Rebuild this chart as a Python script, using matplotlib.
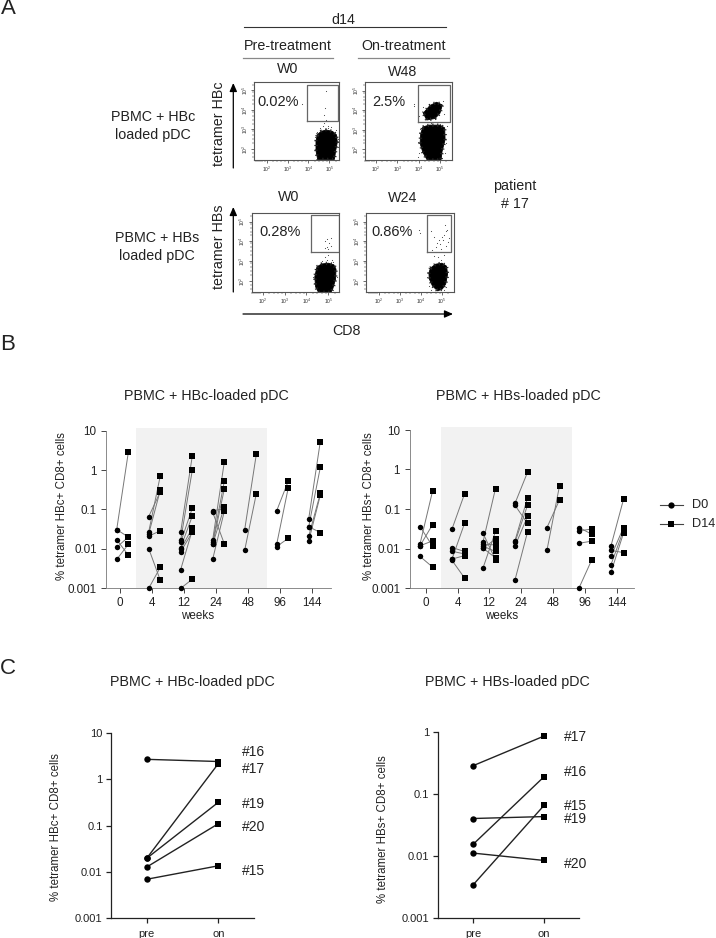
import matplotlib
matplotlib.use("Agg")
import matplotlib.pyplot as plt
from matplotlib.ticker import FixedLocator, FixedFormatter, NullLocator

W, H = 716, 938
plt.rcParams['font.family'] = ['Liberation Sans', 'DejaVu Sans']
plt.rcParams['mathtext.default'] = 'regular'

# Panel B, (D0, D14) pairs per week
weeks = ["0", "4", "12", "24", "48", "96", "144"]

hbc_d0 = [
    [0.031, 0.031, 0.017, 0.011, 0.0054],
    [0.066, 0.027, 0.024, 0.021, 0.0102, 0.001],
    [0.027, 0.017, 0.0148, 0.0108, 0.0098, 0.0085, 0.003, 0.001],
    [0.093, 0.085, 0.017, 0.0148, 0.0132, 0.0132, 0.0055],
    [0.031, 0.0093],
    [0.093, 0.0132, 0.0115],
    [0.058, 0.0367, 0.0367, 0.0209, 0.0158],
]
hbc_d14 = [
    [2.8, 0.02, 0.007, 0.02, 0.013],
    [0.28, 0.72, 0.31, 0.029, 0.0016, 0.0034],
    [2.3, 1.0, 0.108, 0.068, 0.034, 0.0265, 0.03, 0.0017],
    [0.104, 0.0135, 1.6, 0.52, 0.33, 0.115, 0.09],
    [2.5, 0.25],
    [0.53, 0.36, 0.0186],
    [5.3, 0.026, 1.17, 0.255, 0.23],
]
hbs_d0 = [
    [0.036, 0.013, 0.0117, 0.0117, 0.0063],
    [0.031, 0.0106, 0.0085, 0.0054, 0.0054, 0.005],
    [0.0244, 0.0147, 0.0129, 0.0115, 0.0102, 0.0102, 0.0032],
    [0.139, 0.124, 0.0159, 0.0144, 0.0115, 0.0016],
    [0.034, 0.0092],
    [0.034, 0.028, 0.0136, 0.001],
    [0.0117, 0.0089, 0.0063, 0.0039, 0.0025],
]
hbs_d14 = [
    [0.0115, 0.28, 0.0156, 0.04, 0.0034],
    [0.24, 0.0084, 0.0073, 0.043, 0.0066, 0.0018],
    [0.0052, 0.33, 0.0123, 0.0084, 0.0172, 0.0058, 0.027],
    [0.85, 0.043, 0.19, 0.124, 0.065, 0.026],
    [0.17, 0.385],
    [0.0232, 0.031, 0.0153, 0.005],
    [0.175, 0.0079, 0.034, 0.029, 0.0245],
]

# Panel C
patients_hbc = ["#16", "#17", "#19", "#20", "#15"]
pre_hbc = [2.73, 0.0196, 0.0196, 0.0127, 0.0069]
on_hbc = [2.45, 2.2, 0.32, 0.11, 0.0135]
patients_hbs = ["#17", "#16", "#15", "#19", "#20"]
pre_hbs = [0.283, 0.0153, 0.0034, 0.04, 0.0111]
on_hbs = [0.85, 0.188, 0.065, 0.043, 0.00845]

# Panel A, flow plots in log10 units: percent, gate, cell clouds (outlines), lone events
pct_labels = ["0.02%", "2.5%", "0.28%", "0.86%"]
gates = [(3.91, 5.41, 3.41, 5.29), (3.99, 5.47, 3.38, 5.29),
         (4.23, 5.47, 3.49, 5.34), (4.27, 5.44, 3.49, 5.34)]
clouds = [
    [[(4.42, 2.72), (4.6, 2.9), (4.85, 2.97), (5.15, 2.9), (5.34, 2.72), (5.38, 2.35),
      (5.3, 1.9), (5.24, 1.46), (4.44, 1.46), (4.36, 1.9), (4.36, 2.4)]],
    [[(4.22, 3.85), (4.53, 4.24), (4.84, 4.41), (5.11, 4.27), (5.0, 3.85), (4.77, 3.58), (4.38, 3.5)],
     [(4.2, 3.15), (4.5, 3.24), (5.0, 3.24), (5.22, 3.1), (5.24, 2.5), (5.1, 1.9),
      (5.05, 1.46), (4.4, 1.46), (4.2, 1.85), (4.07, 2.3), (4.1, 2.8)]],
    [[(4.48, 2.72), (4.7, 2.86), (5.0, 2.9), (5.25, 2.82), (5.35, 2.6), (5.33, 2.1),
      (5.2, 1.6), (5.12, 1.43), (4.55, 1.43), (4.42, 1.7), (4.38, 2.2)]],
    [[(4.45, 2.65), (4.7, 2.85), (5.0, 2.9), (5.22, 2.75), (5.27, 2.35), (5.18, 1.85),
      (5.02, 1.6), (4.8, 1.5), (4.55, 1.75), (4.4, 2.1), (4.38, 2.4)]],
]
events = [
    [(4.85, 4.95), (4.78, 4.1), (4.72, 3.75), (4.85, 3.5), (3.67, 4.33), (4.7, 3.2), (4.95, 3.2),
     (4.55, 3.05), (5.1, 3.1), (5.3, 2.95), (4.3, 2.6), (5.42, 2.5), (4.3, 2.0), (5.4, 2.1),
     (4.75, 3.35), (4.95, 3.05), (4.4, 2.85)],
    [(3.77, 4.33), (3.77, 4.2), (4.2, 4.15), (5.12, 4.45), (4.0, 3.7), (5.2, 3.8), (5.35, 3.2),
     (4.05, 3.05), (3.98, 2.4), (5.3, 2.8), (5.28, 2.3), (4.0, 1.8), (4.6, 3.35), (5.0, 3.3),
     (3.95, 1.6), (5.22, 1.8)],
    [(4.85, 4.0), (4.95, 4.1), (5.05, 3.9), (5.1, 3.75), (4.95, 3.7), (5.0, 3.6), (4.85, 3.65),
     (5.12, 4.15), (5.0, 3.3), (4.85, 3.2), (4.95, 3.05), (4.7, 3.0), (5.15, 3.05), (4.3, 2.2),
     (5.38, 2.2), (4.35, 1.9), (4.9, 3.45), (5.2, 2.95)],
    [(4.55, 3.55), (4.7, 3.7), (4.75, 3.9), (4.85, 4.05), (4.9, 3.85), (5.0, 4.2), (5.1, 4.3),
     (5.18, 4.55), (5.25, 4.6), (5.15, 4.85), (5.05, 4.05), (4.6, 4.2), (4.5, 4.55), (4.95, 3.6),
     (5.2, 3.75), (4.8, 3.2), (5.1, 3.3), (4.6, 3.25), (4.95, 3.05), (4.3, 2.2), (5.3, 2.2),
     (5.1, 1.55), (4.5, 1.55), (4.4, 1.75), (4.9, 1.45), (5.2, 1.7), (4.7, 1.6), (3.9, 4.6),
     (3.95, 4.45), (4.7, 3.45), (5.35, 4.15), (5.3, 3.95)],
]


def px_axes(fig, left, top, right, bottom):
    return fig.add_axes([left / W, 1 - bottom / H, (right - left) / W, (bottom - top) / H])


def log_axes(ax, labels_y, ticks_y, size=8.4):
    ax.set_yscale("log")
    ax.set_ylim(0.001, 10)
    ax.yaxis.set_major_locator(FixedLocator(ticks_y))
    ax.yaxis.set_major_formatter(FixedFormatter(labels_y))
    ax.yaxis.set_minor_locator(NullLocator())
    ax.spines["top"].set_visible(False)
    ax.spines["right"].set_visible(False)
    ax.tick_params(labelsize=size, length=3.6, width=0.7, color="#444444", labelcolor="#222222")
    ax.tick_params(axis="y", pad=3.5)
    ax.tick_params(axis="x", pad=3)
    ax.patch.set_alpha(0)


def draw_weeks(fig, box, shade, centers, d0, d14, ylabel, ylabel_x, off):
    ax = px_axes(fig, *box)
    log_axes(ax, ["0.001", "0.01", "0.1", "1", "10"], [0.001, 0.01, 0.1, 1, 10])
    ax.set_xlim(box[0], box[2])
    for s in ("left", "bottom"):
        ax.spines[s].set_linewidth(0.6)
        ax.spines[s].set_color("#777777")
    ax.axvspan(shade[0], shade[1], ymax=1.02, color="#f2f2f2", lw=0, zorder=0, clip_on=False)
    ax.set_xticks(centers)
    ax.set_xticklabels(weeks)
    for c, a, b in zip(centers, d0, d14):
        for v0, v14 in zip(a, b):
            ax.plot([c + off[0], c + off[1]], [v0, v14], color="#777777", lw=0.7, zorder=2)
        ax.plot([c + off[0]] * len(a), a, "o", color="black", ms=3.9, mew=0, zorder=3, clip_on=False)
        ax.plot([c + off[1]] * len(b), b, "s", color="black", ms=3.9, mew=0, zorder=3, clip_on=False)
    fig.text(ylabel_x / W, 1 - 506 / H, ylabel, rotation=90, ha="center", va="center", fontsize=8.3, color="#222222")
    return ax


def draw_paired(fig, box, top_val, labels_y, ticks_y, pre, on, patients, label_x, label_y, ylabel, ylabel_x, ylabel_y, xs):
    ax = px_axes(fig, *box)
    log_axes(ax, labels_y, ticks_y, size=8)
    ax.set_ylim(0.001, top_val)
    ax.set_xlim(box[0], box[2])
    for s in ("left", "bottom"):
        ax.spines[s].set_linewidth(0.9)
        ax.spines[s].set_color("#222222")
    ax.tick_params(width=0.9, color="#222222")
    ax.tick_params(axis="y", pad=2.5)
    ax.tick_params(axis="x", pad=4)
    ax.set_xticks(xs)
    ax.set_xticklabels(["pre", "on"])
    for p, o in zip(pre, on):
        ax.plot(xs, [p, o], color="#222222", lw=1.0, zorder=2)
    ax.plot([xs[0]] * len(pre), pre, "o", color="black", ms=4.6, mew=0, zorder=3)
    ax.plot([xs[1]] * len(on), on, "s", color="black", ms=4.6, mew=0, zorder=3)
    for name, y in zip(patients, label_y):
        fig.text(label_x / W, 1 - y / H, name, ha="left", va="center", fontsize=10, color="#222222")
    fig.text(ylabel_x / W, 1 - ylabel_y / H, ylabel, rotation=90, ha="center", va="center", fontsize=8.3, color="#222222")


def draw_flow(fig, box, gate, cloud, lone, pct, pct_xy, left_lim):
    ax = px_axes(fig, *box)
    ax.set_xlim(left_lim[0], left_lim[1])
    ax.set_ylim(1.43, 5.42)
    for s in ax.spines.values():
        s.set_linewidth(0.8)
        s.set_color("#555555")
    for outline in cloud:
        xs = [p[0] for p in outline]
        ys = [p[1] for p in outline]
        ax.fill(xs, ys, color="black", lw=0.6, zorder=2)
        # stippled edge so the cloud does not look like a solid shape
        ax.plot(xs + xs[:1], ys + ys[:1], color="#222222", lw=2.4, ls=(0, (0.35, 1.1)), zorder=2)
    ax.plot([p[0] for p in lone], [p[1] for p in lone], ".", color="#444444", ms=1.6, mew=0, zorder=2)
    ax.plot([gate[0], gate[1], gate[1], gate[0], gate[0]], [gate[2], gate[2], gate[3], gate[3], gate[2]],
            color="#666666", lw=0.9, zorder=3)
    ax.set_xticks([2, 3, 4, 5])
    ax.set_xticklabels(["$10^2$", "$10^3$", "$10^4$", "$10^5$"])
    ax.set_yticks([2, 3, 4, 5])
    ax.set_yticklabels(["$10^2$", "$10^3$", "$10^4$", "$10^5$"], rotation=90, va="center")
    ax.set_xticks([1.5, 1.6, 1.7, 1.8, 1.9, 2.3, 2.5, 2.7, 2.9, 3.3, 3.5, 3.7, 3.9, 4.3, 4.5, 4.7, 4.9, 5.3], minor=True)
    ax.set_yticks([1.6, 1.8, 2.3, 2.5, 2.7, 2.9, 3.3, 3.5, 3.7, 3.9, 4.3, 4.5, 4.7, 4.9, 5.3], minor=True)
    ax.tick_params(which="major", labelsize=3.6, length=2.2, width=0.5, pad=1, color="#333333", labelcolor="#333333")
    ax.tick_params(which="minor", length=1.2, width=0.35, color="#333333")
    fig.text(pct_xy[0] / W, 1 - pct_xy[1] / H, pct, ha="center", va="center", fontsize=10.5, color="#222222")


fig = plt.figure(figsize=(W / 100, H / 100), dpi=100, facecolor="white")

# overlay in pixels for the annotation of panel A
over = fig.add_axes([0, 0, 1, 1])
over.set_xlim(0, W)
over.set_ylim(H, 0)
over.axis("off")
txt = dict(ha="center", va="center", color="#222222")

for label, y in [("A", 9), ("B", 344), ("C", 668)]:
    over.text(8, y, label, fontsize=16, **txt)

over.text(343, 19.5, "d14", fontsize=10.3, **txt)
over.plot([244, 446], [27.3, 27.3], color="#333333", lw=0.8)
over.text(288, 46, "Pre-treatment", fontsize=10.3, **txt)
over.text(404, 46, "On-treatment", fontsize=10.3, **txt)
over.plot([243, 333], [57.7, 57.7], color="#888888", lw=0.9)
over.plot([358, 449], [57.7, 57.7], color="#888888", lw=0.9)
for s, x, y in [("W0", 288, 69), ("W48", 403, 72), ("W0", 289, 197), ("W24", 403, 198)]:
    over.text(x, y, s, fontsize=10.3, **txt)
over.text(219, 124, "tetramer HBc", fontsize=10.3, rotation=90, **txt)
over.text(219, 247, "tetramer HBs", fontsize=10.3, rotation=90, **txt)
over.text(153, 126, "PBMC + HBc\nloaded pDC", fontsize=10.3, linespacing=1.3, **txt)
over.text(157, 247, "PBMC + HBs\nloaded pDC", fontsize=10.3, linespacing=1.3, **txt)
over.text(515, 195, "patient\n# 17", fontsize=10.3, linespacing=1.3, **txt)
over.text(346, 331, "CD8", fontsize=10.3, **txt)

arrow = dict(arrowstyle="-|>,head_width=0.22,head_length=0.5", color="black", lw=0.9, shrinkA=0, shrinkB=0)
over.annotate("", xy=(233.3, 83), xytext=(233.3, 168), arrowprops=arrow)
over.annotate("", xy=(233.3, 207), xytext=(233.3, 292), arrowprops=arrow)
over.annotate("", xy=(453, 314), xytext=(243, 314), arrowprops=arrow)

flow_boxes = [(254.3, 82.3, 339, 160), (365, 82.5, 451.7, 160.5), (251.7, 213.3, 339.3, 292.3), (366, 213.3, 454.3, 292.3)]
flow_xlims = [(1.41, 5.46), (1.49, 5.55), (1.52, 5.5), (1.38, 5.59)]
pct_pos = [(278, 102), (389, 102), (280, 232), (392, 232)]
for i in range(4):
    draw_flow(fig, flow_boxes[i], gates[i], clouds[i], events[i], pct_labels[i], pct_pos[i], flow_xlims[i])

# Panel B
over.text(206.5, 396, "PBMC + HBc-loaded pDC", fontsize=10.3, **txt)
over.text(518, 396, "PBMC + HBs-loaded pDC", fontsize=10.3, **txt)
over.text(198, 616, "weeks", fontsize=8.4, **txt)
over.text(502, 616, "weeks", fontsize=8.4, **txt)
draw_weeks(fig, (106.5, 430.7, 331, 588.3), (136, 266.7), [120, 152, 184, 216, 248, 280, 312],
           hbc_d0, hbc_d14, "% tetramer HBc+ CD8+ cells", 62, (-3.3, 8.3))
draw_weeks(fig, (410, 430, 634, 588), (441, 572), [426, 458, 489, 521, 553, 585, 617],
           hbs_d0, hbs_d14, "% tetramer HBs+ CD8+ cells", 369, (-6, 6.5))

# legend of panel B
over.plot([660, 683], [505, 505], color="#444444", lw=0.8)
over.plot([671], [505], "o", color="black", ms=4.5, mew=0)
over.plot([660, 683], [524, 524], color="#444444", lw=0.8)
over.plot([671], [524], "s", color="black", ms=4.5, mew=0)
over.text(692, 505, "D0", fontsize=9.2, ha="left", va="center", color="#222222")
over.text(692, 524, "D14", fontsize=9.2, ha="left", va="center", color="#222222")

# Panel C
over.text(192, 682, "PBMC + HBc-loaded pDC", fontsize=10.3, **txt)
over.text(507, 682, "PBMC + HBs-loaded pDC", fontsize=10.3, **txt)
draw_paired(fig, (111, 733.3, 254, 918), 10, ["0.001", "0.01", "0.1", "1", "10"], [0.001, 0.01, 0.1, 1, 10],
            pre_hbc, on_hbc, patients_hbc, 241.7, [752, 769, 804, 827, 871],
            "% tetramer HBc+ CD8+ cells", 55.7, 827.5, [146.7, 218.3])
draw_paired(fig, (437.7, 731.7, 579, 918), 1, ["0.001", "0.01", "0.1", "1"], [0.001, 0.01, 0.1, 1],
            pre_hbs, on_hbs, patients_hbs, 564, [736.7, 771.7, 806, 819, 864],
            "% tetramer HBs+ CD8+ cells", 383, 829, [473, 544])

fig.savefig("out.png", dpi=100, facecolor="white")
